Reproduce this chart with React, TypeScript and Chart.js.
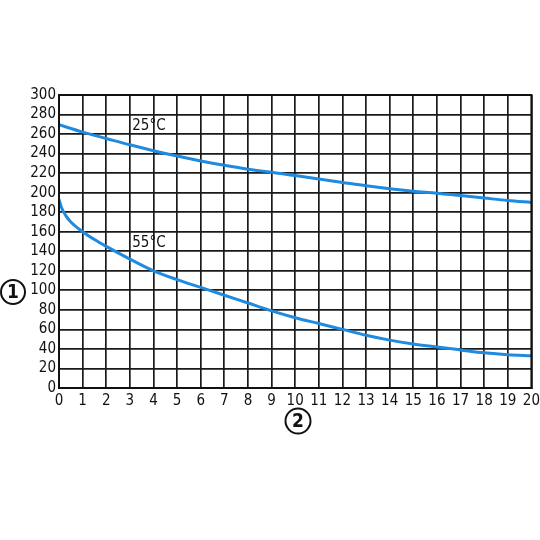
import React, { useEffect, useRef } from 'react';
import Chart from 'chart.js/auto';

const xs25: number[] = [0, 1, 2, 3, 4, 5, 6, 7, 8, 9, 10, 11, 12, 13, 14, 15, 16, 17, 18, 19, 20];
const ys25: number[] = [269.5, 262, 255.5, 249, 243, 237.5, 232.5, 228, 224, 221, 217.5, 214, 210.5, 207, 204, 201.5, 199.5, 197, 194.5, 192, 190];

const xs55: number[] = [0, 0.1, 0.3, 0.5, 1, 1.5, 2, 3, 4, 5, 6, 7, 8, 9, 10, 11, 12, 13, 14, 15, 16, 17, 18, 19, 20];
const ys55: number[] = [193, 185, 176, 170, 160, 152, 145, 132, 120, 111, 103, 95, 87, 79, 72, 66, 60, 54, 49, 45, 42, 39, 36, 34, 33];

const curveLabels = ['25°C', '55°C'];
const labelPos: number[][] = [[3.1, 268], [3.1, 148]];

const FONT = '"DejaVu Sans Condensed", "Liberation Sans Narrow", sans-serif';
const BLUE = '#1f8be0';

const App: React.FC = () => {
  const canvasRef = useRef<HTMLCanvasElement>(null);
  const chartRef = useRef<Chart>();

  useEffect(() => {
    if (!canvasRef.current) return;
    const ctx = canvasRef.current.getContext('2d');
    if (!ctx) return;
    if (chartRef.current) chartRef.current.destroy();

    const extras = {
      id: 'extras',
      afterDraw(chart: any) {
        const c = chart.ctx;
        const xs = chart.scales.x;
        const ys = chart.scales.y;
        const a = chart.chartArea;
        c.save();
        // frame round the plot
        c.lineWidth = 2;
        c.strokeStyle = '#111';
        c.strokeRect(a.left, a.top, a.right - a.left, a.bottom - a.top);
        c.fillStyle = '#111';
        c.font = `15px ${FONT}`;
        c.textAlign = 'left';
        c.textBaseline = 'middle';
        curveLabels.forEach((t, i) => {
          c.fillText(t, xs.getPixelForValue(labelPos[i][0]), ys.getPixelForValue(labelPos[i][1]));
        });
        // numbered circles for axes
        const circ = (cx: number, cy: number, r: number, t: string) => {
          c.beginPath();
          c.arc(cx, cy, r, 0, Math.PI * 2);
          c.lineWidth = 2;
          c.strokeStyle = '#111';
          c.stroke();
          c.font = `bold 19px ${FONT}`;
          c.textAlign = 'center';
          c.fillText(t, cx, cy + 1);
        };
        circ(13, 292, 12, '1');
        circ(298, 421, 12.5, '2');
        c.restore();
      },
    };

    chartRef.current = new Chart(ctx, {
      type: 'line',
      data: {
        datasets: [
          {
            label: curveLabels[0],
            data: xs25.map((x, i) => ({ x, y: ys25[i] })),
            borderColor: BLUE,
            borderWidth: 3,
            pointRadius: 0,
            cubicInterpolationMode: 'monotone',
            fill: false,
          },
          {
            label: curveLabels[1],
            data: xs55.map((x, i) => ({ x, y: ys55[i] })),
            borderColor: BLUE,
            borderWidth: 3,
            pointRadius: 0,
            cubicInterpolationMode: 'monotone',
            fill: false,
          },
        ],
      },
      options: {
        responsive: false,
        animation: false,
        layout: { padding: { top: 95, right: 0, left: 0, bottom: 0 } },
        plugins: { legend: { display: false }, tooltip: { enabled: false } },
        scales: {
          x: {
            type: 'linear',
            min: 0,
            max: 20,
            afterFit: (s: any) => { s.height = 152; },
            border: { color: '#111', width: 2 },
            grid: { color: '#1a1a1a', lineWidth: 1.7, drawTicks: false },
            ticks: { stepSize: 1, autoSkip: false, maxRotation: 0, color: '#111', padding: 4, font: { family: FONT, size: 15 } },
          },
          y: {
            min: 0,
            max: 300,
            afterFit: (s: any) => { s.width = 59; },
            border: { color: '#111', width: 2 },
            grid: { color: '#1a1a1a', lineWidth: 1.7, drawTicks: false },
            ticks: { stepSize: 20, autoSkip: false, color: '#111', padding: 3, font: { family: FONT, size: 15 } },
          },
        },
      },
      plugins: [extras],
    } as any);

    return () => {
      if (chartRef.current) chartRef.current.destroy();
    };
  }, []);

  return (
    <div style={{ position: 'absolute', left: 0, top: 0, width: 540, height: 540, background: '#fff', overflow: 'hidden' }}>
      <canvas ref={canvasRef} width={544} height={540}></canvas>
    </div>
  );
};

export default App;
